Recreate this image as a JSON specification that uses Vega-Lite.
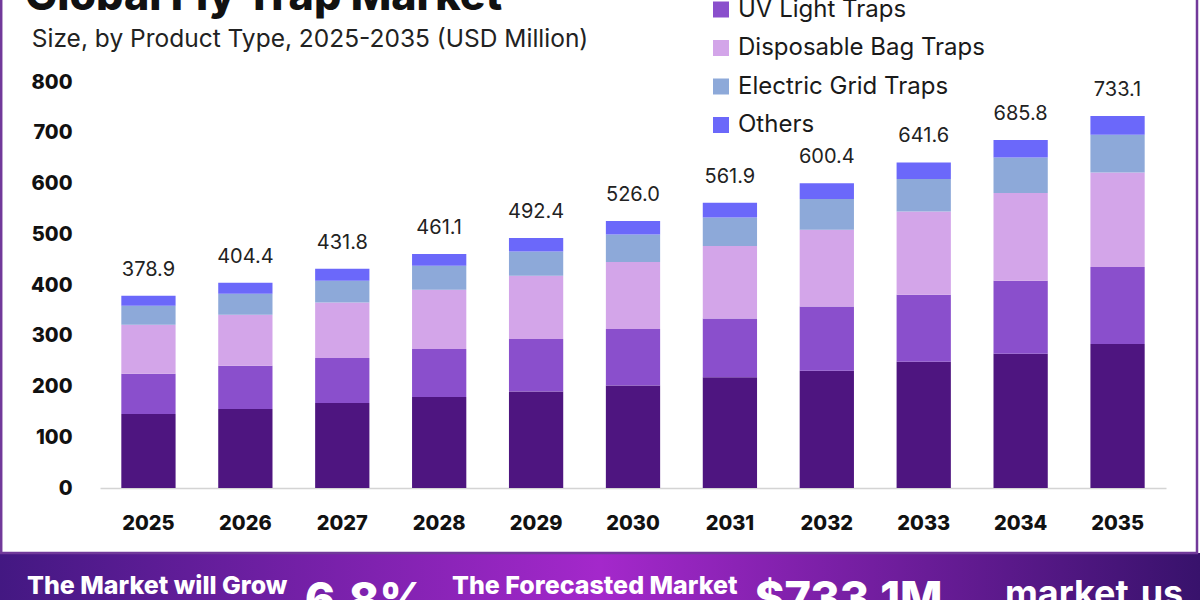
{
  "$schema": "https://vega.github.io/schema/vega-lite/v6.json",
  "width": 1066,
  "height": 406,
  "autosize": {"type": "none"},
  "padding": {"left": 100, "top": 82, "right": 34, "bottom": 112},
  "background": "#ffffff",
  "config": {
    "view": {"stroke": null},
    "font": "Inter",
    "text": {"font": "Inter"}
  },
  "datasets": {
    "market": [
      {"year": "2025", "type": "Sticky Traps", "value": 145.8},
      {"year": "2025", "type": "UV Light Traps", "value": 79.4},
      {"year": "2025", "type": "Disposable Bag Traps", "value": 96.5},
      {"year": "2025", "type": "Electric Grid Traps", "value": 37.5},
      {"year": "2025", "type": "Others", "value": 19.7},
      {"year": "2026", "type": "Sticky Traps", "value": 155.7},
      {"year": "2026", "type": "UV Light Traps", "value": 85.3},
      {"year": "2026", "type": "Disposable Bag Traps", "value": 100.5},
      {"year": "2026", "type": "Electric Grid Traps", "value": 41.4},
      {"year": "2026", "type": "Others", "value": 21.5},
      {"year": "2027", "type": "Sticky Traps", "value": 167.5},
      {"year": "2027", "type": "UV Light Traps", "value": 88.7},
      {"year": "2027", "type": "Disposable Bag Traps", "value": 109.5},
      {"year": "2027", "type": "Electric Grid Traps", "value": 42.8},
      {"year": "2027", "type": "Others", "value": 23.3},
      {"year": "2028", "type": "Sticky Traps", "value": 179.3},
      {"year": "2028", "type": "UV Light Traps", "value": 94.6},
      {"year": "2028", "type": "Disposable Bag Traps", "value": 116.8},
      {"year": "2028", "type": "Electric Grid Traps", "value": 47.3},
      {"year": "2028", "type": "Others", "value": 23.1},
      {"year": "2029", "type": "Sticky Traps", "value": 190.3},
      {"year": "2029", "type": "UV Light Traps", "value": 103.3},
      {"year": "2029", "type": "Disposable Bag Traps", "value": 124.7},
      {"year": "2029", "type": "Electric Grid Traps", "value": 47.9},
      {"year": "2029", "type": "Others", "value": 26.2},
      {"year": "2030", "type": "Sticky Traps", "value": 202.2},
      {"year": "2030", "type": "UV Light Traps", "value": 111.1},
      {"year": "2030", "type": "Disposable Bag Traps", "value": 132.0},
      {"year": "2030", "type": "Electric Grid Traps", "value": 54.4},
      {"year": "2030", "type": "Others", "value": 26.3},
      {"year": "2031", "type": "Sticky Traps", "value": 218.0},
      {"year": "2031", "type": "UV Light Traps", "value": 116.2},
      {"year": "2031", "type": "Disposable Bag Traps", "value": 142.6},
      {"year": "2031", "type": "Electric Grid Traps", "value": 56.4},
      {"year": "2031", "type": "Others", "value": 28.7},
      {"year": "2032", "type": "Sticky Traps", "value": 231.1},
      {"year": "2032", "type": "UV Light Traps", "value": 126.7},
      {"year": "2032", "type": "Disposable Bag Traps", "value": 151.2},
      {"year": "2032", "type": "Electric Grid Traps", "value": 60.5},
      {"year": "2032", "type": "Others", "value": 30.9},
      {"year": "2033", "type": "Sticky Traps", "value": 248.9},
      {"year": "2033", "type": "UV Light Traps", "value": 132.0},
      {"year": "2033", "type": "Disposable Bag Traps", "value": 164.1},
      {"year": "2033", "type": "Electric Grid Traps", "value": 63.9},
      {"year": "2033", "type": "Others", "value": 32.7},
      {"year": "2034", "type": "Sticky Traps", "value": 264.6},
      {"year": "2034", "type": "UV Light Traps", "value": 143.9},
      {"year": "2034", "type": "Disposable Bag Traps", "value": 172.8},
      {"year": "2034", "type": "Electric Grid Traps", "value": 70.1},
      {"year": "2034", "type": "Others", "value": 34.4},
      {"year": "2035", "type": "Sticky Traps", "value": 283.7},
      {"year": "2035", "type": "UV Light Traps", "value": 151.8},
      {"year": "2035", "type": "Disposable Bag Traps", "value": 186.4},
      {"year": "2035", "type": "Electric Grid Traps", "value": 74.3},
      {"year": "2035", "type": "Others", "value": 36.9}
    ]
  },
  "layer": [
    {
      "data": {"name": "market"},
      "transform": [
        {"calculate": "indexof(['Sticky Traps', 'UV Light Traps', 'Disposable Bag Traps', 'Electric Grid Traps', 'Others'], datum.type)", "as": "stackRank"}
      ],
      "layer": [
        {
          "mark": {"type": "bar"},
          "encoding": {
            "x": {
              "field": "year",
              "type": "ordinal",
              "scale": {"paddingInner": 0.44, "paddingOuter": 0.22},
              "axis": {
                "title": null,
                "labelAngle": 0,
                "labelFontSize": 20,
                "labelFontWeight": 800,
                "labelColor": "#111111",
                "labelPadding": 25,
                "ticks": false,
                "domainColor": "#d4d4d4",
                "domainWidth": 1.5
              }
            },
            "y": {
              "field": "value",
              "type": "quantitative",
              "stack": "zero",
              "scale": {"domain": [0, 800], "nice": false},
              "axis": {
                "title": null,
                "values": [0, 100, 200, 300, 400, 500, 600, 700, 800],
                "labelFontSize": 20,
                "labelFontWeight": 800,
                "labelColor": "#111111",
                "labelPadding": 28,
                "ticks": false,
                "domain": false,
                "grid": false
              }
            },
            "order": {"field": "stackRank", "type": "quantitative", "sort": "ascending"},
            "color": {
              "field": "type",
              "type": "nominal",
              "sort": ["Sticky Traps", "UV Light Traps", "Disposable Bag Traps", "Electric Grid Traps", "Others"],
              "scale": {
                "domain": ["Sticky Traps", "UV Light Traps", "Disposable Bag Traps", "Electric Grid Traps", "Others"],
                "range": ["#4e1580", "#8a4fcc", "#d3a5e9", "#8da9d9", "#6b68fa"]
              },
              "legend": {
                "title": null,
                "orient": "none",
                "legendX": 609,
                "legendY": -123,
                "symbolType": "square",
                "symbolSize": 256,
                "symbolStrokeWidth": 0,
                "labelFontSize": 24,
                "labelColor": "#1a1a1a",
                "labelFont": "Inter",
                "labelLimit": 500,
                "labelOffset": 5,
                "rowPadding": 14.5,
                "padding": 0
              }
            }
          }
        },
        {
          "mark": {"type": "text", "baseline": "bottom", "dy": -16, "fontSize": 20, "color": "#222222"},
          "encoding": {
            "x": {"field": "year", "type": "ordinal"},
            "y": {"aggregate": "sum", "field": "value", "type": "quantitative"},
            "text": {"aggregate": "sum", "field": "value", "type": "quantitative", "format": ".1f"}
          }
        }
      ]
    },
    {
      "data": {"values": [{}]},
      "layer": [
        {
          "mark": {
            "type": "rect",
            "fill": {
              "gradient": "linear",
              "x1": 0, "y1": 0, "x2": 1, "y2": 0,
              "stops": [
                {"offset": 0, "color": "#431882"},
                {"offset": 0.5, "color": "#a428cb"},
                {"offset": 1, "color": "#38126c"}
              ]
            }
          },
          "encoding": {
            "x": {"datum": 0, "type": "quantitative", "scale": {"domain": [0, 1], "range": [-100, 1100], "nice": false, "zero": false}, "axis": null},
            "x2": {"datum": 1},
            "y": {"datum": 0, "type": "quantitative", "scale": {"domain": [0, 1], "range": [518, -82], "nice": false, "zero": false}, "axis": null},
            "y2": {"datum": 0.0783}
          }
        },
        {
          "mark": {"type": "rect", "filled": false, "stroke": "#71399a", "strokeWidth": 2.5},
          "encoding": {
            "x": {"datum": 0.001, "type": "quantitative"},
            "x2": {"datum": 0.9975},
            "y": {"datum": 0.0783, "type": "quantitative"},
            "y2": {"datum": 1.05}
          }
        },
        {
          "mark": {"type": "text", "text": "Global Fly Trap Market", "align": "left", "baseline": "alphabetic", "color": "#111111", "fontSize": 43, "fontWeight": 800},
          "encoding": {
            "x": {"datum": 0.0208, "type": "quantitative"},
            "y": {"datum": 0.9833, "type": "quantitative"}
          }
        },
        {
          "mark": {"type": "text", "text": "Size, by Product Type, 2025-2035 (USD Million)", "align": "left", "baseline": "alphabetic", "color": "#222222", "fontSize": 24.5, "fontWeight": 400},
          "encoding": {
            "x": {"datum": 0.0265, "type": "quantitative"},
            "y": {"datum": 0.9217, "type": "quantitative"}
          }
        },
        {
          "mark": {"type": "text", "text": "The Market will Grow", "align": "left", "baseline": "alphabetic", "color": "#ffffff", "fontSize": 25, "fontWeight": 800},
          "encoding": {
            "x": {"datum": 0.0225, "type": "quantitative"},
            "y": {"datum": 0.01, "type": "quantitative"}
          }
        },
        {
          "mark": {"type": "text", "text": "6.8%", "align": "left", "baseline": "alphabetic", "color": "#ffffff", "fontSize": 46, "fontWeight": 800},
          "encoding": {
            "x": {"datum": 0.254, "type": "quantitative"},
            "y": {"datum": -0.027, "type": "quantitative"}
          }
        },
        {
          "mark": {"type": "text", "text": "The Forecasted Market", "align": "left", "baseline": "alphabetic", "color": "#ffffff", "fontSize": 25, "fontWeight": 800},
          "encoding": {
            "x": {"datum": 0.3767, "type": "quantitative"},
            "y": {"datum": 0.01, "type": "quantitative"}
          }
        },
        {
          "mark": {"type": "text", "text": "$733.1M", "align": "left", "baseline": "alphabetic", "color": "#ffffff", "fontSize": 45, "fontWeight": 800},
          "encoding": {
            "x": {"datum": 0.629, "type": "quantitative"},
            "y": {"datum": -0.024, "type": "quantitative"}
          }
        },
        {
          "mark": {"type": "text", "text": "market.us", "align": "left", "baseline": "alphabetic", "color": "#ffffff", "fontSize": 36, "fontWeight": 700},
          "encoding": {
            "x": {"datum": 0.8375, "type": "quantitative"},
            "y": {"datum": -0.01, "type": "quantitative"}
          }
        }
      ]
    }
  ],
  "resolve": {"scale": {"x": "independent", "y": "independent"}}
}
